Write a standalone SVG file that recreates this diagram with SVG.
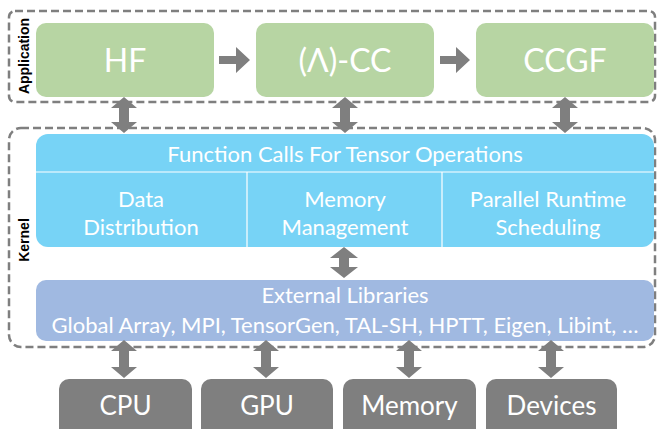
<svg xmlns="http://www.w3.org/2000/svg" width="658" height="429" viewBox="0 0 658 429">
<style>
.dash{fill:none;stroke:#7F7F7F;stroke-width:2.5;stroke-dasharray:8 4}
.app{fill:#B7D5A3}
.func{fill:#77D3F6}
.ext{fill:#A0B9E1}
.hw{fill:#7F7F7F}
.arr{fill:#7F7F7F}
.t{font-family:Lato,"Liberation Sans",sans-serif;fill:#FFFFFF;text-anchor:middle}
.lbl{font-family:"Liberation Sans",Arial,sans-serif;font-weight:bold;font-size:14px;fill:#000000;text-anchor:middle}
.div{stroke:#FFFFFF;stroke-width:1.2}
</style>
<rect width="658" height="429" fill="#FFFFFF"/>
<g id="layers">
<rect class="dash" x="9" y="11" width="646" height="91" rx="6"/>
<rect class="dash" x="9" y="128" width="646" height="219" rx="12"/>
<text class="lbl" transform="translate(29,56) rotate(-90)">Application</text>
<text class="lbl" transform="translate(29,240) rotate(-90)">Kernel</text>
</g>
<g id="hf"><rect class="app" x="36" y="23" width="178" height="74" rx="10"/><text class="t" x="125" y="72" font-size="32">HF</text></g>
<g id="cc"><rect class="app" x="256" y="23" width="178" height="74" rx="10"/><text class="t" x="345" y="72" font-size="32">(Λ)-CC</text></g>
<g id="ccgf"><rect class="app" x="476" y="23" width="178" height="74" rx="10"/><text class="t" x="565" y="72" font-size="32">CCGF</text></g>
<g id="func">
<rect class="func" x="36" y="134" width="618" height="113" rx="12"/>
<line class="div" x1="36" y1="172" x2="654" y2="172"/>
<line class="div" x1="247" y1="172" x2="247" y2="247"/>
<line class="div" x1="442" y1="172" x2="442" y2="247"/>
<text class="t" x="345" y="162" font-size="22">Function Calls For Tensor Operations</text>
<text class="t" x="141" y="207" font-size="22">Data</text>
<text class="t" x="141" y="235" font-size="22">Distribution</text>
<text class="t" x="345" y="207" font-size="22">Memory</text>
<text class="t" x="345" y="235" font-size="22">Management</text>
<text class="t" x="548" y="207" font-size="22">Parallel Runtime</text>
<text class="t" x="548" y="235" font-size="22">Scheduling</text>
</g>
<g id="ext">
<rect class="ext" x="36" y="280" width="618" height="61" rx="10"/>
<text class="t" x="345" y="303" font-size="22">External Libraries</text>
<text class="t" x="345" y="333" font-size="22">Global Array, MPI, TensorGen, TAL-SH, HPTT, Eigen, Libint, …</text>
</g>
<g id="cpu"><rect class="hw" x="59" y="379" width="133" height="70" rx="10"/><text class="t" x="125.5" y="415" font-size="26">CPU</text></g>
<g id="gpu"><rect class="hw" x="201" y="379" width="132" height="70" rx="10"/><text class="t" x="267" y="415" font-size="26">GPU</text></g>
<g id="memory"><rect class="hw" x="343" y="379" width="133" height="70" rx="10"/><text class="t" x="409.5" y="415" font-size="26">Memory</text></g>
<g id="devices"><rect class="hw" x="486" y="379" width="131" height="70" rx="10"/><text class="t" x="551.5" y="415" font-size="26">Devices</text></g>
<g id="connectors">
<polygon class="arr" points="219,56 236,56 236,47 250,60 236,73 236,64 219,64"/>
<polygon class="arr" points="440,56 456,56 456,47 470,60 456,73 456,64 440,64"/>
<polygon class="arr" points="124,97 137,108 129,108 129,122 137,122 124,133 111,122 119,122 119,108 111,108"/>
<polygon class="arr" points="345,97 358,108 350,108 350,122 358,122 345,133 332,122 340,122 340,108 332,108"/>
<polygon class="arr" points="565,97 578,108 570,108 570,122 578,122 565,133 552,122 560,122 560,108 552,108"/>
<polygon class="arr" points="344,247 358,258 349,258 349,267 358,267 344,278 330,267 339,267 339,258 330,258"/>
<polygon class="arr" points="124,340 137,351 129,351 129,367 137,367 124,378 111,367 119,367 119,351 111,351"/>
<polygon class="arr" points="266,340 279,351 271,351 271,367 279,367 266,378 253,367 261,367 261,351 253,351"/>
<polygon class="arr" points="409,340 422,351 414,351 414,367 422,367 409,378 396,367 404,367 404,351 396,351"/>
<polygon class="arr" points="551,340 564,351 556,351 556,367 564,367 551,378 538,367 546,367 546,351 538,351"/>
</g>
</svg>
